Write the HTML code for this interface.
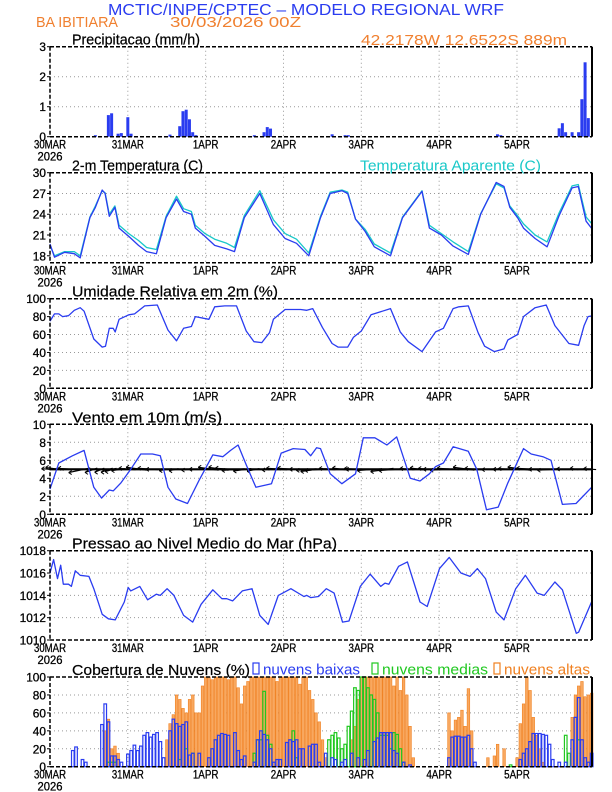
<!DOCTYPE html>
<html><head><meta charset="utf-8">
<style>
html,body{margin:0;padding:0;background:#fff;}
svg{display:block;font-family:"Liberation Sans",sans-serif;}
</style></head>
<body>
<svg id="chart" width="612" height="792" viewBox="0 0 612 792" xmlns="http://www.w3.org/2000/svg">
<text x="306" y="15" font-size="16" fill="#2a3cf0" text-anchor="middle" textLength="396" lengthAdjust="spacingAndGlyphs">MCTIC/INPE/CPTEC – MODELO REGIONAL WRF</text>
<text x="36" y="27" font-size="15" fill="#f08030" textLength="82" lengthAdjust="spacingAndGlyphs">BA IBITIARA</text>
<text x="170" y="27" font-size="15" fill="#f08030" textLength="131" lengthAdjust="spacingAndGlyphs">30/03/2026 00Z</text>
<text x="361" y="45" font-size="15" fill="#f08030" textLength="206" lengthAdjust="spacingAndGlyphs">42.2178W 12.6522S 889m</text>
</svg>
<script>
// ---------- data ----------
const dayLabels = ["30MAR","31MAR","1APR","2APR","3APR","4APR","5APR"];
const precipHours = [14,18,19,21,22,24,25,37,40,41,42,43,44,45,63,66,67,68,87,91,92,138,139,157,158,159,161,163,164,165,166];
const precipVals  = [0.05,0.72,0.78,0.1,0.12,0.65,0.1,0.07,0.35,0.85,0.9,0.58,0.15,0.05,0.05,0.15,0.32,0.27,0.08,0.05,0.05,0.08,0.05,0.28,0.45,0.15,0.15,0.15,1.25,2.48,0.62];

const tempHours = [0,1.4,4.5,7.5,9.3,12.3,14,16.1,17,18.3,20,21.3,24.3,27.3,29.8,32.8,35.8,39,41.2,43.6,44.8,47.8,50.8,54.5,56.9,59.9,64.7,68.9,72.5,76,79.8,83.4,86.4,90,91.8,94.2,97.2,100,105,108.7,114.7,117,120.7,124.3,129,132.8,137.6,140,141.8,144.2,146,149.6,153.3,157,161,162.9,165.3,167.3];
const tempVals  = [19.7,17.8,18.5,18.3,17.7,23.5,25,27.5,27,23.7,25,22,20.8,19.5,18.6,18.3,23.5,26.2,24.4,24,22,20.8,19.5,19,18.6,23.5,27,22.5,20.5,19.8,18,23.5,27,27.4,27,23.3,21.5,19.3,18,23.5,27.3,22,21,19.4,18.2,24,28.6,28,25,23.5,22,20.5,19.3,23.8,27.8,28,23,21.8];
const appTempVals = [19.5,18,18.6,18.6,18,23.6,25.2,27.4,27.1,24,25.2,22.4,21.2,20.2,19.2,18.9,23.7,26.6,24.8,24.4,22.4,21.2,20.4,19.8,19.2,23.8,27.4,23.2,21.2,20.4,18.4,23.7,27.2,27.5,27.2,23.3,21.8,19.7,18.4,23.6,27.4,22.4,21.2,20,18.6,24.1,28.4,27.8,25.2,23.8,22.6,21,20,24.2,28.1,28.3,23.6,22.5];

const rhHours = [0,1.4,2.7,3.9,5.7,7.5,9.3,10.5,13.5,16.1,17.1,18.3,19.5,20.1,21.3,24.3,26.1,29.2,33.1,36.4,39,41.2,43.6,44.8,49,50.8,53.9,57.5,60.5,62.9,65.3,67.7,68.9,72.5,77.3,79.2,81,84,87,88.8,91.8,93.6,96,99,105,108,110.5,114.7,118.9,121.3,124.3,126.1,129,132,134,137,140,141.2,144.2,146,149.6,153,155.7,160,163,164.7,165.9,167.3];
const rhVals  = [75,83,83,80,81,87,90,86,55,46,47,67,67,63,77,82,83,92,93,65,53,67,69,80,77,91,92,92,64,52,51,62,77,88,88,87,89,68,50,46,46,57,64,82,89,63,52,41,63,67,89,91,92,62,47,41,44,54,60,80,90,93,70,50,48,70,80,81];

const windHours = [0,2.7,6.9,10.5,13.5,15.9,18.3,19.5,21.9,24.9,28,31.6,34,36.4,38.8,42.4,46,50.2,53.3,55.7,58,60.5,63.5,68.3,71.3,75,78.6,80.4,82.2,83.4,86.4,90,94.2,96.6,100.2,103.9,106.9,111.1,114.1,117,118.9,121.3,124.3,129,131.6,134.6,138.2,141.2,146,148.4,152,154.5,158,162.2,167.3];
const windVals  = [2.8,5.7,6.5,7.1,3,1.8,2.7,2.6,3.5,5,6.7,6.7,6.5,3,1.7,1.2,3.8,6.6,6.4,7.1,7.7,5.5,3,3.4,6.8,7.3,7.2,6.5,7.4,7.3,4.5,3.4,4.5,8.5,8.5,7.7,8.6,4,3.7,4.5,5.3,5.7,7.5,7,5,0.5,0.8,3.5,7.3,6.7,6.4,6,1.1,1.2,3.1];
const windDirTilt = [0.1,0.2,0.1,-0.3,-0.5,-0.6,-0.5,-0.4,-0.2,0.1,0.2,0.1,0,-0.2,-0.3,-0.2,0,0.2,0.2,0.1,-0.1,-0.2,-0.3,-0.1,0.1,0.1,0,-0.1,-0.2,-0.1,0.1,0.2,0.1,0,-0.1,-0.2,-0.1,0.1,0.2,0.1,0,-0.1,0.1,0.2,0.1,-0.1,0,0.1,0.2,0.1,0,-0.1,0.1,0.2,0.1];

const presHours = [0,1.1,2.3,3.3,4.1,5.7,6.6,7.8,9.3,12,13.5,16.1,18,20.1,22.9,24.1,24.9,27.7,30.1,32.8,34,36.1,38.2,41.2,44,46.6,50.2,53,54.5,56.3,59.3,62.3,64.7,67.3,70.4,74.3,78.3,79.2,80.4,82.8,85.2,87.6,90.2,92.2,95.7,98.7,102,103.3,104.5,107.5,110.2,114.1,116.3,120.1,123.1,126.7,129.5,131.8,134.3,137.6,140,143.6,146.6,150.2,152.4,155.7,158,162.3,163,167.3];
const presVals  = [1016,1017.2,1015.5,1016.7,1015,1015,1014.8,1016.2,1015.8,1015.7,1014.6,1012.3,1011.9,1011.8,1013.4,1014.7,1014.4,1014.8,1013.6,1014.1,1014,1014.6,1014,1012.2,1011.6,1013.2,1014.5,1013.7,1013.7,1013.5,1014.4,1014.6,1012.2,1011.4,1014,1014.6,1013.9,1014,1013.8,1013.9,1014.6,1014.2,1011.6,1011.7,1014.8,1015.9,1014.8,1015.1,1015,1016.6,1017,1013.4,1013,1016.4,1017.4,1016,1015.7,1016.4,1015.5,1012.5,1011.8,1014.6,1015.8,1014.2,1014,1015.2,1014.5,1010.6,1010.7,1013.6];

const lowHours = [7,8,10,11,16,17,18,19,20,21,22,24,25,26,27,28,29,30,31,32,33,34,35,37,38,39,40,41,42,43,44,46,49,50,51,52,53,54,55,57,58,59,60,63,64,65,66,67,68,69,70,71,73,74,75,76,77,78,80,81,82,83,85,87,88,90,91,93,95,97,98,100,101,102,103,104,105,106,107,109,111,123,124,125,126,127,128,129,130,131,145,146,147,148,149,150,151,152,153,154,155,157,159,161,162,163,164,165,166,167];
const lowVals  = [18,22,8,5,47,70,50,12,12,8,5,14,18,24,18,23,35,38,33,36,38,28,10,40,53,48,45,47,50,13,15,15,10,20,30,35,37,36,35,38,18,8,12,5,30,40,36,30,20,5,8,8,27,30,28,30,20,20,23,25,25,5,15,10,8,5,8,15,10,8,18,28,32,38,38,38,38,18,15,5,2,10,33,34,34,33,33,35,20,5,8,15,20,28,37,37,37,36,35,25,8,5,5,30,55,77,30,10,5,15];
const midHours = [18,19,20,40,42,44,63,64,65,66,67,68,75,76,86,87,88,89,90,91,92,93,94,95,96,97,98,99,100,101,102,103,104,105,106,107,108,109,142,159,160,163];
const midVals  = [5,5,5,8,20,15,15,30,30,84,35,25,40,10,30,35,38,32,20,25,45,62,88,85,100,100,88,80,75,60,35,35,35,20,38,36,20,5,2,35,15,30];
const highHours = [17,18,19,20,21,36,37,38,39,40,41,42,43,44,45,46,47,48,49,50,51,52,53,54,55,56,57,58,59,60,61,62,63,64,65,66,67,68,69,70,71,72,73,74,75,76,77,78,79,80,81,82,83,84,85,93,94,95,96,97,98,99,100,101,102,103,104,105,106,107,108,109,110,111,112,123,124,125,126,127,128,129,130,135,137,138,140,144,145,146,147,148,149,150,151,152,161,162,163,164,165,166,167];
const highVals  = [40,53,20,23,15,30,48,58,80,75,65,60,75,80,60,60,90,100,100,97,100,100,100,100,97,100,100,88,70,90,95,100,100,100,100,100,100,100,100,95,100,100,100,100,100,100,92,100,100,85,75,60,50,30,10,30,45,75,100,100,100,100,100,100,100,100,100,100,90,100,85,100,80,45,10,60,40,52,55,63,45,87,40,10,12,25,20,10,48,70,100,85,55,35,20,5,55,80,90,95,78,80,82];

// ---------- layout ----------
const svg = document.getElementById('chart');
const NS = 'http://www.w3.org/2000/svg';
const X0 = 50, X1 = 592, PXH = 77.83/24;
function xs(h){ return X0 + h*PXH; }
function mk(tag, attrs, parent){
  const e = document.createElementNS(NS, tag);
  for (const k in attrs) e.setAttribute(k, attrs[k]);
  (parent||svg).appendChild(e);
  return e;
}
function scaleY(p){ return v => p.bot - (v - p.min)/(p.max - p.min)*(p.bot - p.top); }

const panels = {
  precip:{top:46.7,bot:136.7,min:0,max:3,ticks:[0,1,2,3],title:"Precipitacao (mm/h)",tw:128},
  temp:{top:172.7,bot:262.7,min:17,max:30,ticks:[18,21,24,27,30],title:"2-m Temperatura (C)",tw:131},
  rh:{top:298.7,bot:388.3,min:0,max:100,ticks:[0,20,40,60,80,100],title:"Umidade Relativa em 2m (%)",tw:206},
  wind:{top:424.3,bot:514.3,min:0,max:10,ticks:[0,2,4,6,8,10],title:"Vento em 10m (m/s)",tw:150},
  pres:{top:550.7,bot:640,min:1010,max:1018,ticks:[1010,1012,1014,1016,1018],title:"Pressao ao Nivel Medio do Mar (hPa)",tw:265},
  cloud:{top:677,bot:766.7,min:0,max:100,ticks:[0,20,40,60,80,100],title:"Cobertura de Nuvens (%)",tw:178}
};

function drawFrame(key){
  const p = panels[key];
  const y = scaleY(p);
  const g = mk('g',{});
  
  
  for (let d=1; d<dayLabels.length; d++){
    const gl = mk('line',{x1:xs(d*24),x2:xs(d*24),y1:p.top,y2:p.bot,stroke:'#999','stroke-width':1,'stroke-dasharray':'1,3'},g);
    
    
  }
  p.ticks.forEach(t=>{
    if (t===p.min || t===p.max) return;
    const gl = mk('line',{x1:X0,x2:X1,y1:y(t),y2:y(t),stroke:'#999','stroke-width':1,'stroke-dasharray':'1,3'},g);
    
    
  });
  p.ticks.forEach(t=>{
    const s = String(t);
    const tl = mk('text',{x:46,y:y(t)+4.5,'font-size':12,'text-anchor':'end',fill:'#000',stroke:'#000','stroke-width':0.3,textLength:s.length*6.6,lengthAdjust:'spacingAndGlyphs'},g);
    tl.textContent = s;
    
    
    mk('line',{x1:X0-3,x2:X0,y1:y(t),y2:y(t),stroke:'#000'},g);
  });
  dayLabels.forEach((lab,i)=>{
    const tl = mk('text',{x:xs(i*24),y:p.bot+12,'font-size':12,'text-anchor':'middle',fill:'#000',stroke:'#000','stroke-width':0.3,textLength:lab.length*6.4,lengthAdjust:'spacingAndGlyphs'},g);
    tl.textContent = lab;
    
    
  });
  const yr = mk('text',{x:xs(0),y:p.bot+24,'font-size':12,'text-anchor':'middle',fill:'#000',stroke:'#000','stroke-width':0.3,textLength:25,lengthAdjust:'spacingAndGlyphs'},g);
  yr.textContent = '2026';
  
  
  const tt = mk('text',{x:72,y:p.top-2,'font-size':15,fill:'#000',stroke:'#000','stroke-width':0.2,textLength:p.tw,lengthAdjust:'spacingAndGlyphs'},g);
  tt.textContent = p.title;
  
  
  return g;
}
function drawBorder(key){
  const p = panels[key];
  const g = mk('g',{});
  
  
  mk('line',{x1:X0,x2:X1,y1:p.top,y2:p.top,stroke:'#000','stroke-width':1.5,'stroke-dasharray':'4,2'},g);
  mk('line',{x1:X0,x2:X1,y1:p.bot,y2:p.bot,stroke:'#000','stroke-width':1.5,'stroke-dasharray':'4,2'},g);
  mk('line',{x1:X0,x2:X0,y1:p.top,y2:p.bot,stroke:'#000','stroke-width':1.5,'stroke-dasharray':'4,2'},g);
  mk('line',{x1:X1,x2:X1,y1:p.top,y2:p.bot,stroke:'#000','stroke-width':2},g);
}
function linePath(hours, vals, key){
  const y = scaleY(panels[key]);
  return hours.map((h,i)=>(i?'L':'M')+xs(h).toFixed(1)+','+y(vals[i]).toFixed(1)).join(' ');
}

// precip
drawFrame('precip');
(function(){
  const y = scaleY(panels.precip);
  precipHours.forEach((h,i)=>{
    const b = mk('rect',{x:xs(h)-1.5,y:y(precipVals[i]),width:3,height:panels.precip.bot-y(precipVals[i]),fill:'#2a3cf0'});
    
    
  });
})();
drawBorder('precip');

// temperature
drawFrame('temp');
const at = mk('path',{d:linePath(tempHours,appTempVals,'temp'),fill:'none',stroke:'#18c8c8','stroke-width':1.3,'stroke-linejoin':'round'});


const tl = mk('path',{d:linePath(tempHours,tempVals,'temp'),fill:'none',stroke:'#2a3cf0','stroke-width':1.3,'stroke-linejoin':'round'});


const atl = mk('text',{x:360,y:170.5,'font-size':15,fill:'#18c8c8',textLength:181,lengthAdjust:'spacingAndGlyphs'});
atl.textContent = 'Temperatura Aparente (C)';


drawBorder('temp');

// RH
drawFrame('rh');
const rl = mk('path',{d:linePath(rhHours,rhVals,'rh'),fill:'none',stroke:'#2a3cf0','stroke-width':1.3,'stroke-linejoin':'round'});


drawBorder('rh');

// wind
drawFrame('wind');
(function(){
  const y = scaleY(panels.wind);
  const g = mk('g',{});
  
  
  const band = mk('rect',{x:X0,y:y(5.12),width:X1-X0,height:y(4.88)-y(5.12),fill:'#000'},g);
  
  
  windHours.forEach((h,i)=>{
    const sp = windVals[i];
    const x = xs(h), y0 = y(5);
    const len = 4 + sp*1.6;
    const dy = windDirTilt[i]*len*0.7;
    mk('line',{x1:x+len*0.4,y1:y0+dy*0.4,x2:x-len,y2:y0-dy,stroke:'#000','stroke-width':1.2},g);
    mk('line',{x1:x-len,y1:y0-dy,x2:x-len+3,y2:y0-dy-2,stroke:'#000','stroke-width':1},g);
    mk('line',{x1:x-len,y1:y0-dy,x2:x-len+3,y2:y0-dy+2,stroke:'#000','stroke-width':1},g);
  });
})();
const wl = mk('path',{d:linePath(windHours,windVals,'wind'),fill:'none',stroke:'#2a3cf0','stroke-width':1.3,'stroke-linejoin':'round'});


drawBorder('wind');

// pressure
drawFrame('pres');
const pl = mk('path',{d:linePath(presHours,presVals,'pres'),fill:'none',stroke:'#2a3cf0','stroke-width':1.3,'stroke-linejoin':'round'});


drawBorder('pres');

// clouds
drawFrame('cloud');
(function(){
  const y = scaleY(panels.cloud);
  highHours.forEach((h,i)=>{
    const b = mk('rect',{x:xs(h)-1.2,y:y(highVals[i]),width:2.6,height:panels.cloud.bot-y(highVals[i]),fill:'#f8a860',stroke:'#f08020','stroke-width':0.6});
    
    
  });
  midHours.forEach((h,i)=>{
    const b = mk('rect',{x:xs(h)-1.2,y:y(midVals[i]),width:2.6,height:panels.cloud.bot-y(midVals[i]),fill:'none',stroke:'#20c820','stroke-width':1.2});
    
    
  });
  lowHours.forEach((h,i)=>{
    const b = mk('rect',{x:xs(h)-1.2,y:y(lowVals[i]),width:2.6,height:panels.cloud.bot-y(lowVals[i]),fill:'none',stroke:'#2a3cf0','stroke-width':1.2});
    
    
  });
})();
drawBorder('cloud');
(function(){
  const items = [["nuvens baixas","#2a3cf0",253,97],["nuvens medias","#20c820",372,106],["nuvens altas","#f08020",494,86]];
  items.forEach(it=>{
    const g = mk('g',{});
    
    
    mk('rect',{x:it[2],y:663,width:6,height:11,fill:'none',stroke:it[1],'stroke-width':1.2},g);
    const t = mk('text',{x:it[2]+10,y:674.5,'font-size':15,fill:it[1],textLength:it[3],lengthAdjust:'spacingAndGlyphs'},g);
    t.textContent = it[0];
  });
})();
</script>
</body></html>
